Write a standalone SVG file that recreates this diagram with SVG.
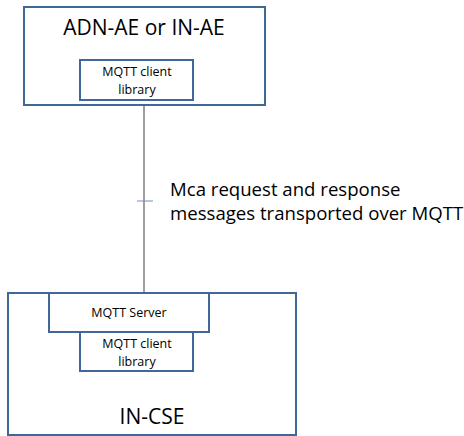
<svg xmlns="http://www.w3.org/2000/svg" width="464" height="436" viewBox="0 0 464 436">
<style>
.box{fill:#fff;stroke:#41669a;stroke-width:2}
.big{font-family:"Open Sans","Liberation Sans",sans-serif;font-size:21px;fill:#000;text-anchor:middle}
.sm{font-family:"Open Sans","Liberation Sans",sans-serif;font-size:12.5px;fill:#000;text-anchor:middle}
.lbl{font-family:"Open Sans","Liberation Sans",sans-serif;font-size:18.6px;fill:#000}
</style>
<rect width="464" height="436" fill="#fff"/>
<g id="connectors">
<line x1="144" y1="106" x2="144" y2="292" stroke="#7f7f7f" stroke-width="1.5"/>
<line x1="137" y1="201" x2="153" y2="201" stroke="#6f8fc0" stroke-width="1"/>
<text class="lbl" x="170" y="196"><tspan x="170" y="196">Mca request and response</tspan><tspan x="170" y="220">messages transported over MQTT</tspan></text>
</g>
<g id="adn-ae">
<rect class="box" x="24" y="7" width="241" height="98"/>
<text class="big" x="144" y="35">ADN-AE or IN-AE</text>
</g>
<g id="ae-client">
<rect class="box" x="80" y="60" width="113" height="40"/>
<text class="sm" x="137" y="76"><tspan x="137" y="76">MQTT client</tspan><tspan x="137" y="94">library</tspan></text>
</g>
<g id="in-cse">
<rect class="box" x="8" y="293" width="288" height="142"/>
<text class="big" x="152" y="424">IN-CSE</text>
</g>
<g id="mqtt-server">
<rect class="box" x="49" y="293" width="160" height="39"/>
<text class="sm" x="129" y="317">MQTT Server</text>
</g>
<g id="cse-client">
<rect class="box" x="80" y="332" width="113" height="39"/>
<text class="sm" x="137" y="348"><tspan x="137" y="348">MQTT client</tspan><tspan x="137" y="366">library</tspan></text>
</g>
</svg>
